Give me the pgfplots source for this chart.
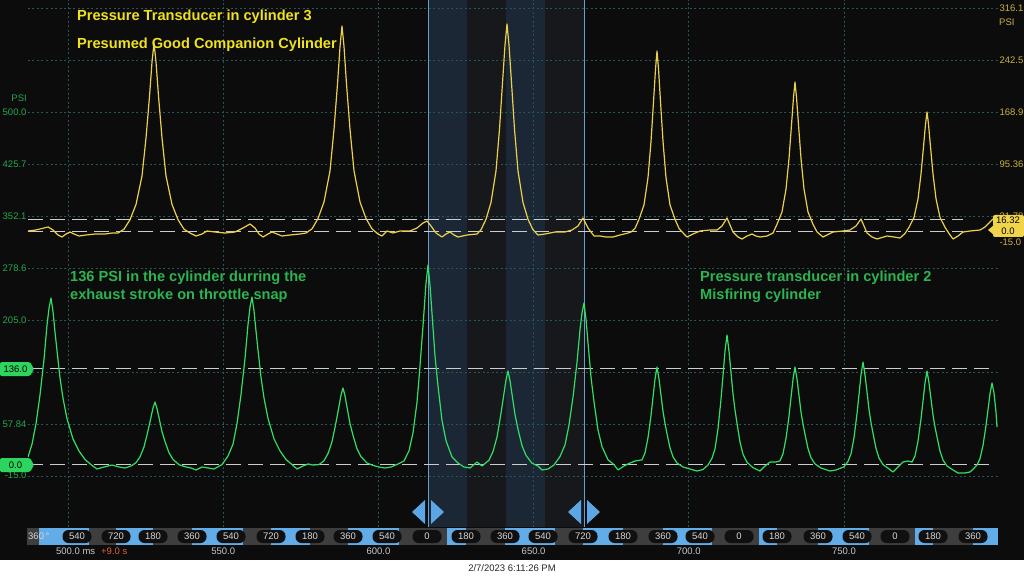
\documentclass[border=0pt]{standalone}
\usepackage{fontspec}
\setmainfont{Liberation Sans}
\usepackage{pgfplots}
\pgfplotsset{compat=1.18}
\usepackage{pgfplotstable}
\definecolor{bg}{RGB}{12,12,12}
\definecolor{bandblue}{RGB}{27,39,53}
\definecolor{bandgray}{RGB}{23,24,27}
\definecolor{gridc}{RGB}{38,86,90}
\definecolor{ytrace}{RGB}{236,208,76}
\definecolor{gtrace}{RGB}{50,222,100}
\definecolor{ytext}{RGB}{240,226,30}
\definecolor{gtext}{RGB}{44,180,80}
\definecolor{glabel}{RGB}{36,168,78}
\definecolor{ylabel}{RGB}{202,178,66}
\definecolor{gtag}{RGB}{44,214,94}
\definecolor{ytag}{RGB}{242,212,74}
\definecolor{cursor}{RGB}{105,158,208}
\definecolor{rulerblue}{RGB}{98,172,232}
\definecolor{rulergray}{RGB}{62,62,62}
\definecolor{pill}{RGB}{16,16,16}
\definecolor{pilltext}{RGB}{214,214,214}
\definecolor{timelabel}{RGB}{200,200,200}
\definecolor{plus}{RGB}{224,96,58}
\definecolor{dashc}{RGB}{205,205,205}
\definecolor{arrowc}{RGB}{92,166,230}

% Cylinder 3 (yellow, right axis), time in ms, pressure in PSI
\pgfplotstableread{
t v
487.11 0.55
489.69 1.96
492.27 4.80
493.56 6.21
495.17 1.96
496.78 -5.11
498.07 -7.94
499.36 -3.70
500.64 -0.87
501.93 -3.70
503.54 -6.53
505.80 -5.11
508.70 -3.70
511.92 -3.70
514.18 -2.28
516.11 -2.28
518.04 3.10
519.97 16.54
521.91 38.06
523.84 78.40
525.13 132.18
526.26 191.34
527.06 239.75
527.71 266.64
528.35 239.75
529.16 191.34
530.28 132.18
531.57 78.40
533.51 38.06
535.44 16.54
537.37 3.10
539.30 -2.28
541.24 -6.53
543.17 -3.70
544.78 0.55
547.36 -0.87
550.58 -2.28
553.80 -0.87
556.38 4.80
558.63 10.46
560.24 4.80
561.53 -3.70
562.82 -7.94
564.43 -3.70
565.72 -0.87
567.33 -3.70
568.94 -6.53
571.52 -5.11
574.74 -3.70
576.67 -2.28
578.61 3.52
580.54 18.24
582.47 41.60
584.41 85.61
585.69 144.21
586.82 208.61
587.63 261.40
588.27 290.70
588.92 261.40
589.72 208.61
590.85 144.21
592.14 85.61
594.07 41.60
596.00 18.24
597.94 3.52
599.87 -3.70
601.16 -6.53
602.77 0.55
604.70 -2.28
606.96 0.55
610.18 0.55
612.43 4.80
614.37 11.87
615.66 14.70
616.94 7.63
618.55 -2.28
620.49 -7.94
621.78 -3.70
623.07 -0.87
624.35 -5.11
625.64 -7.94
628.54 -5.11
631.76 -3.70
633.05 2.25
634.66 17.11
636.27 40.89
637.88 85.47
639.01 144.92
639.98 210.31
640.78 263.81
641.43 293.53
642.07 263.81
642.88 210.31
643.84 144.92
644.97 85.47
646.58 40.89
648.19 17.11
649.80 2.25
651.42 -5.11
653.67 -3.70
656.89 -0.87
660.11 -0.87
662.37 1.96
664.30 7.63
665.91 18.95
667.52 4.80
669.46 -6.53
671.39 -6.53
673.32 -7.94
675.58 -7.94
677.83 -5.11
680.41 -2.28
681.38 -0.87
682.67 4.23
683.95 17.11
685.56 37.49
686.85 75.99
687.82 127.23
688.63 183.56
689.27 229.70
689.75 255.32
690.24 229.70
690.88 183.56
691.69 127.23
692.65 75.99
693.94 37.49
695.55 17.11
696.84 4.23
698.45 -3.70
699.42 -7.94
701.35 -3.70
703.61 0.55
706.83 1.96
709.08 1.96
710.69 7.63
712.30 18.95
713.27 9.04
714.24 -0.87
715.85 -7.94
717.14 -10.77
718.75 -6.53
720.36 -3.70
721.65 -6.53
722.94 -7.94
725.19 -6.53
727.12 -2.28
728.41 10.03
730.02 27.44
731.31 59.85
732.28 103.16
733.08 150.86
733.73 189.79
734.21 211.44
734.69 189.79
735.34 150.86
736.14 103.16
737.11 59.85
738.40 27.44
740.01 10.03
741.30 -0.72
743.23 -7.94
746.45 -0.87
749.67 0.55
751.93 1.96
753.86 7.63
755.47 17.53
756.44 7.63
757.41 -2.28
759.02 -7.94
760.63 -10.77
763.85 -6.53
766.10 -7.94
768.04 -9.36
769.65 -2.99
770.94 5.79
772.55 19.80
773.84 46.12
774.80 81.23
775.61 119.87
776.25 151.43
776.74 168.98
777.22 151.43
777.86 119.87
778.67 81.23
779.64 46.12
780.92 19.80
782.53 5.79
783.82 -2.99
785.11 -10.77
786.72 -6.53
788.33 -0.87
790.59 0.55
793.81 1.96
795.42 6.21
796.71 11.87
798.00 17.53
798.96 17.53
}\yellowdata

% Cylinder 2 (green, left axis), time in ms, pressure in PSI
\pgfplotstableread{
t v
487.11 11.09
488.40 29.21
489.69 58.08
490.98 98.99
492.27 149.52
493.23 197.64
493.88 221.70
494.52 236.14
495.17 216.89
495.81 188.01
496.46 161.55
497.42 123.05
498.39 94.17
499.68 65.30
501.61 36.43
503.54 19.58
505.48 7.55
507.41 0.33
509.34 -5.89
511.60 -3.06
514.18 -0.23
516.43 -3.06
518.36 -4.48
520.30 -1.65
521.91 3.02
523.20 11.37
524.48 25.39
525.45 42.23
526.42 60.91
527.38 80.59
528.03 88.94
528.67 79.60
529.32 66.57
530.28 46.90
531.25 32.89
532.54 17.04
533.83 7.69
535.76 0.19
537.69 -2.64
539.63 -4.48
541.24 -7.31
543.17 -3.06
545.10 -4.48
547.04 -5.89
549.61 0.33
551.55 12.51
553.16 29.35
554.45 58.51
555.73 99.55
557.02 150.36
557.99 198.77
558.63 222.97
559.28 237.55
559.92 218.16
560.57 189.15
561.21 162.54
562.18 123.76
563.14 94.74
564.43 65.73
566.37 36.71
568.30 19.73
570.23 7.55
572.16 0.33
573.78 -5.89
575.71 -1.65
577.32 1.18
578.93 -0.23
580.86 0.33
582.47 5.85
583.76 15.90
585.05 32.75
586.02 52.85
586.98 75.21
587.95 98.70
588.59 108.75
589.24 97.57
589.88 81.86
590.85 58.37
591.82 41.66
593.10 22.70
594.39 11.52
596.33 2.60
598.26 -0.80
600.19 -3.06
602.13 -4.48
604.06 -3.06
606.31 1.18
608.25 5.57
609.86 19.87
611.15 45.49
612.43 88.37
613.40 139.89
614.37 197.07
615.33 257.08
615.98 282.84
616.62 254.25
617.27 214.20
618.23 154.19
619.20 111.30
620.49 62.75
621.78 34.16
623.71 11.23
625.64 2.60
627.58 -3.06
629.51 -4.48
631.76 4.01
633.37 -1.65
635.63 6.56
636.92 18.87
638.21 39.40
639.17 64.17
640.14 91.63
641.11 120.50
641.75 132.81
642.40 119.08
643.04 99.83
644.01 70.96
644.97 50.44
646.26 27.08
647.55 13.36
649.48 2.31
651.42 -1.79
652.70 -7.31
654.64 -5.89
656.57 -0.23
658.50 11.80
660.11 28.22
661.40 56.24
662.69 95.87
663.98 144.99
664.95 191.69
665.59 215.05
666.23 229.06
666.88 205.71
667.52 173.01
668.49 123.90
669.46 88.94
670.75 49.31
672.03 25.81
673.97 7.13
675.90 0.19
677.19 -7.31
679.12 -1.65
681.05 2.60
682.67 5.43
684.92 6.99
685.89 16.89
686.85 38.41
687.82 69.83
688.46 95.59
689.11 121.35
689.75 138.48
690.40 121.35
691.04 98.42
691.69 75.63
692.33 58.37
692.97 44.07
693.94 24.11
694.91 11.23
696.20 2.60
698.13 -3.06
700.38 -5.89
702.64 -8.72
704.57 -6.60
706.18 -0.23
707.47 9.25
708.44 22.56
709.40 51.01
710.37 92.76
711.02 126.87
711.66 160.98
712.30 183.77
712.95 160.98
713.59 130.69
714.24 100.26
714.88 77.61
715.53 58.65
716.49 32.04
717.46 14.91
718.75 3.59
720.68 -4.05
722.94 -8.72
724.55 -1.65
726.16 4.01
728.09 4.01
729.38 5.71
730.34 15.76
731.31 37.42
732.28 69.12
732.92 95.16
733.57 121.21
734.21 138.48
734.86 121.21
735.50 97.99
736.14 74.92
736.79 57.66
737.43 43.22
738.40 22.98
739.37 9.96
740.65 1.33
742.59 -4.48
745.49 -8.72
747.42 -7.31
750.00 -2.78
751.29 4.86
752.25 15.62
753.22 38.55
754.18 72.24
754.83 99.69
755.47 127.15
756.12 145.55
756.76 127.15
757.41 102.81
758.05 78.32
758.69 59.92
759.34 44.64
760.31 23.26
761.27 9.53
762.56 0.33
764.49 -5.75
765.78 -10.14
767.39 -3.06
769.00 4.01
770.61 5.43
771.90 4.01
772.87 12.51
773.84 33.74
774.80 64.88
775.45 90.35
776.09 115.83
776.74 132.81
777.38 115.83
778.02 93.18
778.67 70.54
779.31 53.55
779.96 39.40
780.92 19.58
781.89 6.85
783.18 -1.65
785.11 -7.31
786.72 -11.55
788.98 -11.55
790.59 -10.14
791.56 -6.32
792.84 -0.09
793.81 8.68
794.78 27.65
795.74 55.39
796.39 78.04
797.03 100.68
797.68 115.83
798.32 101.68
798.96 74.78
799.29 53.55
}\greendata

\begin{document}
\begin{tikzpicture}[x=1pt,y=1pt]
\fill[white] (0,0) rectangle (1024,576);
\fill[bg] (0,16) rectangle (1024,576);
% cursor region bands
\fill[bandblue] (428,49) rectangle (467,576);
\fill[bandgray] (467,49) rectangle (506,576);
\fill[bandblue] (506,49) rectangle (545,576);
\fill[bandgray] (545,49) rectangle (584,576);
\draw[cursor, line width=1pt] (428,49) -- (428,576);
\draw[cursor, line width=1pt] (584,49) -- (584,576);

% ---------- yellow channel (right axis) ----------
\begin{axis}[
  at={(28pt,49pt)}, anchor=south west,
  scale only axis, width=970pt, height=527pt,
  xmin=487.11, xmax=799.61, ymin=-418.40, ymax=327.50,
  axis line style={draw=none}, major tick length=0pt,
  tick style={draw=none},
  xtick={500,550,600,650,700,750},
  xticklabels={500.0\rlap{ ms\hspace{6pt}\textcolor{plus}{+9.0 s}},550.0,600.0,650.0,700.0,750.0},
  ytick={316.1,242.5,168.9,95.36,21.78,-51.82,-125.42,-199.02,-272.62,-346.22},
  yticklabels={316.1,242.5,168.9,95.36,21.78,,,,,},
  extra y ticks={-15},
  extra y tick labels={-15.0},
  extra y tick style={grid=none, yticklabel pos=right},
  yticklabel pos=right,
  xmajorgrids, ymajorgrids,
  grid style={gridc, dash pattern=on 2pt off 2.5pt, line width=0.8pt},
  ticklabel style={font=\fontsize{9.5}{11}\selectfont},
  xticklabel style={text=timelabel, anchor=north, yshift=-17pt},
  yticklabel style={text=ylabel, anchor=west, xshift=-2pt},
  /pgf/number format/assume math mode=true,
]
\addplot[dashc, line width=1.1pt, dash pattern=on 15pt off 7pt] coordinates {(487.11,16.32) (788.33,16.32)};
\addplot[dashc, line width=1.1pt, dash pattern=on 15pt off 7pt] coordinates {(487.11,0) (788.33,0)};
\addplot[ytrace, line width=1.2pt, line join=round] table[x=t,y=v]{\yellowdata};
\end{axis}

% ---------- green channel (left axis) ----------
\begin{axis}[
  at={(28pt,49pt)}, anchor=south west,
  scale only axis, width=970pt, height=527pt,
  xmin=487.11, xmax=799.61, ymin=-87.98, ymax=657.92,
  axis line style={draw=none}, major tick length=0pt,
  tick style={draw=none},
  xtick=\empty,
  ytick={499.4,425.8,352.2,278.6,205.0,57.8,-15},
  yticklabels={500.0,425.7,352.1,278.6,205.0,57.84,-15.0},
  yticklabel pos=left,
  ticklabel style={font=\fontsize{9.5}{11}\selectfont},
  yticklabel style={text=glabel, anchor=east, xshift=2pt},
  /pgf/number format/assume math mode=true,
]
\addplot[dashc, line width=1.1pt, dash pattern=on 15pt off 7pt] coordinates {(487.11,136) (798.0,136)};
\addplot[dashc, line width=1.1pt, dash pattern=on 15pt off 7pt] coordinates {(487.11,0) (798.0,0)};
\addplot[gtrace, line width=1.2pt, line join=round] table[x=t,y=v]{\greendata};
\end{axis}

% axis unit labels
\node[anchor=east, text=glabel, font=\fontsize{9.5}{11}\selectfont, inner sep=0pt] at (27,478) {PSI};
\node[anchor=west, text=ylabel, font=\fontsize{9.5}{11}\selectfont, inner sep=0pt] at (999,554) {PSI};

% cursor tags
\fill[gtag, rounded corners=1.5pt] (0,200) -- (30,200) -- (34,207) -- (30,214) -- (0,214) -- cycle;
\node[font=\fontsize{9.5}{11}\selectfont, text=black, inner sep=0pt] at (15.5,207) {136.0};
\fill[gtag, rounded corners=1.5pt] (0,104) -- (30,104) -- (34,111) -- (30,118) -- (0,118) -- cycle;
\node[font=\fontsize{9.5}{11}\selectfont, text=black, inner sep=0pt] at (15.5,111) {0.0};
\fill[ytag, rounded corners=2pt] (993,339) rectangle (1024,361);
\fill[ytag] (994,351) -- (988,346) -- (994,341) -- cycle;
\node[font=\fontsize{9.5}{11}\selectfont, text=black, inner sep=0pt] at (1008,356) {16.32};
\node[font=\fontsize{9.5}{11}\selectfont, text=black, inner sep=0pt] at (1008,345) {0.0};

% annotations
\begin{scope}[every node/.style={anchor=west, inner sep=0pt, font=\fontsize{14.6}{17}\selectfont\bfseries}]
\node[text=ytext] at (77,559) {Pressure Transducer in cylinder 3};
\node[text=ytext] at (77,531) {Presumed Good Companion Cylinder};
\node[text=gtext] at (70,298) {136 PSI in the cylinder durring the};
\node[text=gtext] at (70,280) {exhaust stroke on throttle snap};
\node[text=gtext] at (700,298) {Pressure transducer in cylinder 2};
\node[text=gtext] at (700,280) {Misfiring cylinder};
\end{scope}

% cursor arrows
\fill[arrowc] (425,76) -- (425,52) -- (412,64) -- cycle;
\fill[arrowc] (431,76) -- (431,52) -- (444,64) -- cycle;
\fill[arrowc] (581,76) -- (581,52) -- (568,64) -- cycle;
\fill[arrowc] (587,76) -- (587,52) -- (600,64) -- cycle;

% crank-angle ruler
\fill[rulergray] (27,31) rectangle (998,48);
\foreach \a/\b in {39/89,116/153,192/243,271/310,348/399,447/466,505/555,583/623,663/712,759/777,818/869,915/933,973/998}
  {\fill[rulerblue] (\a,31) rectangle (\b,48);}
\foreach \c/\l in {77/540,116/720,153/180,192/360,231/540,271/720,310/180,348/360,387/540,427/0,466/180,505/360,543/540,583/720,623/180,663/360,700/540,739/0,777/180,818/360,857/540,895/0,933/180,973/360}
  {\fill[pill, rounded corners=6pt] (\c-14.5,33) rectangle (\c+14.5,46);
   \node[text=pilltext, font=\fontsize{9.5}{11}\selectfont, inner sep=0pt] at (\c,39.5) {\l};}
\node[text=pilltext, font=\fontsize{9.5}{11}\selectfont, inner sep=0pt, anchor=west] at (28,39.5) {360\,°};

% date
\node[text=black!85, font=\fontsize{9.5}{11}\selectfont, inner sep=0pt] at (512,8) {2/7/2023 6:11:26 PM};

\pgfresetboundingbox
\useasboundingbox (0,0) rectangle (1024,576);
\end{tikzpicture}
\end{document}
